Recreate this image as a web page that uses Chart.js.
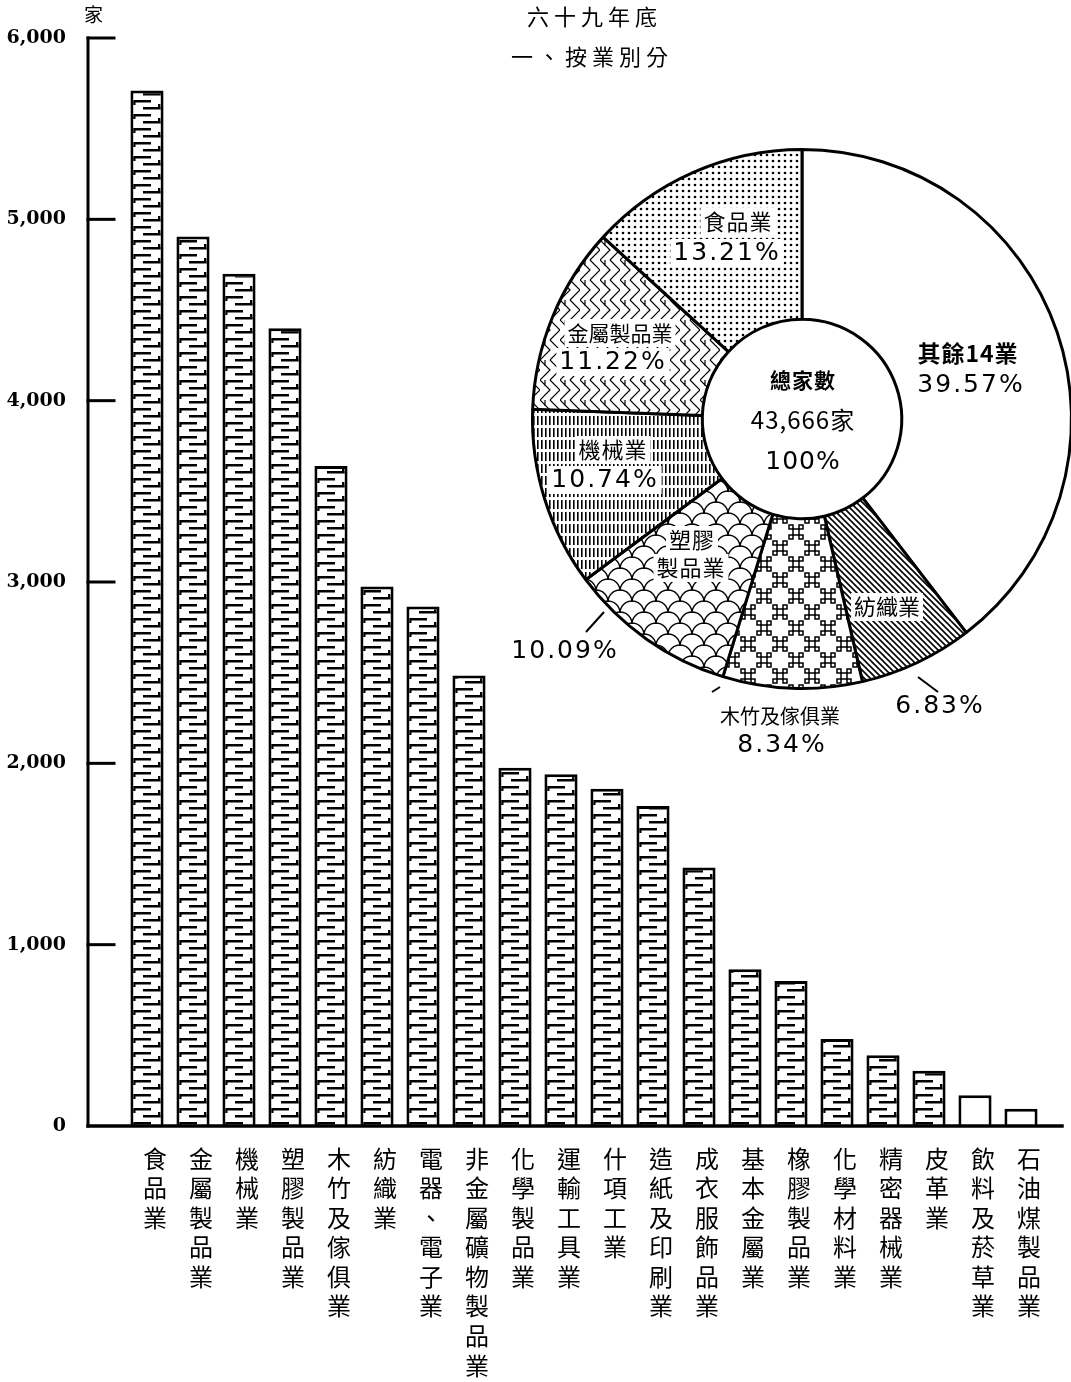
<!DOCTYPE html>
<html>
<head>
<meta charset="utf-8">
<script src="https://cdn.jsdelivr.net/npm/chart.js@4.4.1/dist/chart.umd.min.js"></script>
<style>
    html, body { margin: 0; padding: 0; background: #fff; overflow: hidden; width: 1071px; height: 1382px; }
    #bar { position: absolute; left: 0; top: 0; }
    #pie { position: absolute; left: 500px; top: 140px; }
    .t { position: absolute; font-family: "Noto Sans CJK TC"; color: #000; white-space: nowrap; }
</style>
</head>
<body>
<canvas id="bar" width="1071" height="1382"></canvas>
<canvas id="pie" width="600" height="640"></canvas>
<div class="t" style="left:527px; top:-1px; font-size:22px; letter-spacing:5px;">六十九年底</div>
<div class="t" style="left:511px; top:39px; font-size:22px; letter-spacing:5px;">一、按業別分</div>
<div class="t" style="left:84px; top:0px; font-size:19px;">家</div>
<script>
// bar chart data (家數, 六十九年底)
const categories = [
    '食品業', '金屬製品業', '機械業', '塑膠製品業', '木竹及傢俱業', '紡織業',
    '電器、電子業', '非金屬礦物製品業', '化學製品業', '運輸工具業', '什項工業',
    '造紙及印刷業', '成衣服飾品業', '基本金屬業', '橡膠製品業', '化學材料業',
    '精密器械業', '皮革業', '飲料及菸草業', '石油煤製品業'
];
const counts = [
    5710, 4905, 4700, 4400, 3640, 2975,
    2865, 2485, 1975, 1940, 1860,
    1765, 1425, 865, 800, 480,
    390, 305, 170, 95
];
const yTicks = [0, 1000, 2000, 3000, 4000, 5000, 6000];

// pie data (百分比)
const pieLabels = ['其餘14業', '紡織業', '木竹及傢俱業', '塑膠製品業', '機械業', '金屬製品業', '食品業'];
const pieShares = [39.57, 6.83, 8.34, 10.09, 10.74, 11.22, 13.21];
const totalFirms = '43,666家';

/**
 * Build a repeating fill pattern from a small tile
 */
function makePattern(ctx, w, h, draw) {
    const c = document.createElement('canvas');
    c.width = w;
    c.height = h;
    const g = c.getContext('2d');
    g.fillStyle = '#fff';
    g.fillRect(0, 0, w, h);
    g.strokeStyle = '#000';
    g.fillStyle = '#000';
    draw(g, w, h);
    return ctx.createPattern(c, 'repeat');
}

const barCtx = document.getElementById('bar').getContext('2d');
const pieCtx = document.getElementById('pie').getContext('2d');

// brick-like dashes inside the bars; tile width equals the category spacing
const barPattern = makePattern(barCtx, 46, 14, (g) => {
    const o = 131 % 46;
    [o, o - 46].forEach(x0 => {
        g.fillRect(x0 + 2, 2, 18, 2.5);
        g.fillRect(x0 + 2, 2, 2.5, 5);
        g.fillRect(x0 + 12, 9, 18, 2.5);
        g.fillRect(x0 + 27, 6, 2.5, 5);
    });
});

// pie patterns
const piePatterns = [
    '#fff',
    makePattern(pieCtx, 6, 6, (g) => {          // 紡織: diagonal lines
        g.lineWidth = 1.6;
        g.beginPath();
        g.moveTo(-1, -1); g.lineTo(7, 7);
        g.moveTo(-4, 2); g.lineTo(4, 10);
        g.moveTo(2, -4); g.lineTo(10, 4);
        g.stroke();
    }),
    makePattern(pieCtx, 32, 32, (g) => {        // 木竹: ⌘ marks
        g.lineWidth = 1.5;
        const mark = (cx, cy) => {
            g.strokeRect(cx - 3, cy - 3, 6, 6);
            [[-1, -1], [1, -1], [-1, 1], [1, 1]].forEach(([sx, sy]) => {
                g.strokeRect(cx + sx * 3 - (sx < 0 ? 4 : 0), cy + sy * 3 - (sy < 0 ? 4 : 0), 4, 4);
            });
        };
        mark(8, 8);
        mark(24, 24);
    }),
    makePattern(pieCtx, 24, 22, (g) => {        // 塑膠: fish scales
        g.lineWidth = 1.4;
        g.beginPath(); g.arc(12, 11, 12, Math.PI, Math.PI * 2); g.stroke();
        g.beginPath(); g.arc(0, 22, 12, Math.PI, Math.PI * 2); g.stroke();
        g.beginPath(); g.arc(24, 22, 12, Math.PI, Math.PI * 2); g.stroke();
        g.beginPath(); g.arc(12, 33, 12, Math.PI, Math.PI * 2); g.stroke();
    }),
    makePattern(pieCtx, 4, 12, (g) => {         // 機械: broken vertical lines
        g.fillRect(1, 0, 1.6, 9);
    }),
    makePattern(pieCtx, 20, 20, (g) => {        // 金屬: zigzags
        g.lineWidth = 1.2;
        g.beginPath();
        g.moveTo(0, 0); g.lineTo(10, 10); g.lineTo(0, 20);
        g.moveTo(10, 0); g.lineTo(20, 10); g.lineTo(10, 20);
        g.moveTo(5, 0); g.lineTo(5, 6);
        g.stroke();
    }),
    makePattern(pieCtx, 6, 6, (g) => {          // 食品: dots
        g.beginPath(); g.arc(3, 3, 1.3, 0, Math.PI * 2); g.fill();
    })
];

/**
 * Axis lines drawn like the printed chart: ticks point into the plot
 */
const axisLines = {
    id: 'axisLines',
    afterDatasetsDraw(chart) {
        const y = chart.scales.y;
        const ctx = chart.ctx;
        const ax = 88;
        const y0 = y.getPixelForValue(0);
        ctx.save();
        ctx.strokeStyle = '#000';
        ctx.lineWidth = 3;
        ctx.lineCap = 'square';
        ctx.beginPath();
        ctx.moveTo(ax, y.getPixelForValue(yTicks[yTicks.length - 1]));
        ctx.lineTo(ax, y0);
        ctx.stroke();
        yTicks.forEach(v => {
            if (v === 0) return;
            const py = y.getPixelForValue(v);
            ctx.beginPath();
            ctx.moveTo(ax, py);
            ctx.lineTo(ax + 26, py);
            ctx.stroke();
        });
        ctx.lineWidth = 3.5;
        ctx.beginPath();
        ctx.moveTo(ax, y0);
        ctx.lineTo(1062, y0);
        ctx.stroke();
        ctx.restore();
    }
};

new Chart(barCtx, {
    type: 'bar',
    data: {
        labels: categories.map(s => Array.from(s)),
        datasets: [{
            data: counts,
            backgroundColor: counts.map((v, i) => i < 18 ? barPattern : '#fff'),
            borderColor: '#000',
            borderWidth: 3,
            barPercentage: 0.72,
            categoryPercentage: 1.0
        }]
    },
    options: {
        responsive: false,
        animation: false,
        devicePixelRatio: 1,
        events: [],
        layout: { padding: { top: 38, right: 27, left: 0, bottom: 0 } },
        plugins: { legend: { display: false }, tooltip: { enabled: false } },
        scales: {
            x: {
                grid: { display: false },
                border: { display: false },
                ticks: {
                    color: '#000',
                    font: { family: 'Noto Sans CJK TC', size: 24, lineHeight: 1.23 },
                    maxRotation: 0,
                    autoSkip: false,
                    padding: 10,
                    labelOffset: 8
                },
                afterFit(scale) {
                    scale.height = 256;
                    scale.paddingLeft = 0;
                    scale.paddingRight = 0;
                }
            },
            y: {
                min: 0,
                max: 6000,
                afterBuildTicks(scale) {
                    scale.ticks = yTicks.map(v => ({ value: v }));
                },
                grid: { display: false },
                border: { display: false },
                ticks: {
                    color: '#000',
                    font: { family: 'DejaVu Serif', size: 19, weight: 'bold' },
                    padding: 50
                },
                afterFit(scale) {
                    scale.width = 124;
                    scale.paddingTop = 0;
                    scale.paddingBottom = 0;
                }
            }
        }
    },
    plugins: [axisLines]
});

/**
 * Pie annotations (text placed relative to the pie centre)
 */
const pieText = {
    id: 'pieText',
    afterDraw(chart) {
        const arc = chart.getDatasetMeta(0).data[0];
        const cx = arc.x, cy = arc.y;
        const ctx = chart.ctx;
        const cjk = (s) => `${s}px "Noto Sans CJK TC"`;
        const num = '25px "DejaVu Sans"';

        const label = (text, dx, dy, font, boxed, spacing) => {
            ctx.save();
            ctx.font = font;
            ctx.letterSpacing = (spacing || 0) + 'px';
            ctx.textAlign = 'center';
            ctx.textBaseline = 'middle';
            if (boxed) {
                const w = ctx.measureText(text).width;
                ctx.fillStyle = '#fff';
                ctx.fillRect(cx + dx - w / 2 - 3, cy + dy - 14, w + 6, 28);
            }
            ctx.fillStyle = '#000';
            ctx.fillText(text, cx + dx, cy + dy);
            ctx.restore();
        };
        const leader = (x1, y1, x2, y2) => {
            ctx.save();
            ctx.strokeStyle = '#000';
            ctx.lineWidth = 2;
            ctx.beginPath();
            ctx.moveTo(cx + x1, cy + y1);
            ctx.lineTo(cx + x2, cy + y2);
            ctx.stroke();
            ctx.restore();
        };
        const pct = (i) => pieShares[i].toFixed(2) + '%';

        label('食品業', -64, -197, cjk(22), true, 1);
        label(pct(6), -75, -166, num, true, 2);
        label('金屬製品業', -182, -86, cjk(21), true, 0);
        label(pct(5), -189, -57, num, true, 2);
        label('機械業', -189, 31, cjk(22), true, 1);
        label(pct(4), -197, 61, num, true, 2);
        label('塑膠', -110, 121, cjk(22), true, 1);
        label('製品業', -111, 149, cjk(22), true, 1);
        label('紡織業', 85, 188, cjk(22), true, 0);
        label('其餘14業', 166, -66, 'bold 23px "Noto Sans CJK TC"', false, 1);
        label(pct(0), 169, -34, num, false, 2);
        label('總家數', 1, -39, 'bold 21px "Noto Sans CJK TC"', false, 1);
        label(totalFirms, 1, 1, cjk(24), false, 1);
        label('100%', 1, 43, num, false, 1);
        label(pct(3), -237, 232, num, false, 2);
        label('木竹及傢俱業', -22, 297, cjk(20), false, 0);
        label(pct(2), -20, 326, num, false, 2);
        label(pct(1), 138, 287, num, false, 2);

        leader(-216, 213, -198, 193);
        leader(-90, 273, -82, 268);
        leader(136, 273, 116, 258);
    }
};

new Chart(pieCtx, {
    type: 'doughnut',
    data: {
        labels: pieLabels,
        datasets: [{
            data: pieShares,
            backgroundColor: piePatterns,
            borderColor: '#000',
            borderWidth: 3
        }]
    },
    options: {
        responsive: false,
        animation: false,
        devicePixelRatio: 1,
        events: [],
        cutout: '37%',
        layout: { padding: { left: 31, top: 8, right: 27, bottom: 90 } },
        plugins: { legend: { display: false }, tooltip: { enabled: false } }
    },
    plugins: [pieText]
});
</script>
</body>
</html>
